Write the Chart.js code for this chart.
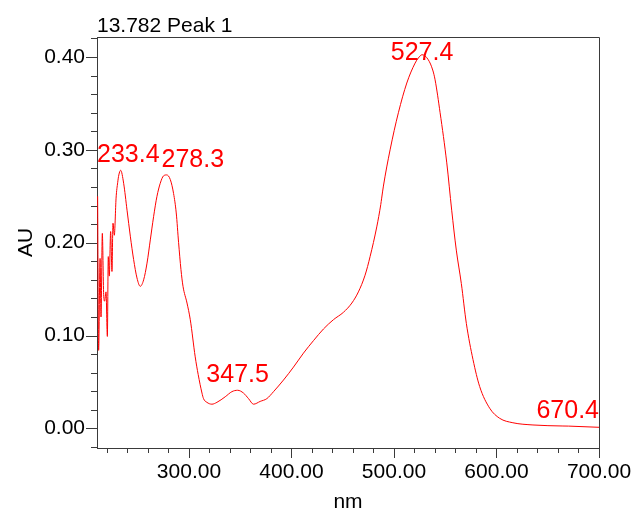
<!DOCTYPE html>
<html>
<head>
<meta charset="utf-8">
<title>13.782 Peak 1</title>
<script src="https://cdn.jsdelivr.net/npm/chart.js@4.4.1/dist/chart.umd.min.js"></script>
<style>
  html, body { margin: 0; padding: 0; background: #fff; }
  #wrap { width: 633px; height: 510px; }
</style>
</head>
<body>
<div id="wrap"><canvas id="spectrum" width="633" height="510"></canvas></div>
<script>
// spectrum (wavelength nm / absorbance AU)
const wavelengths = [
  210.9, 211.9, 213.3, 214.2, 215.5, 216.8, 217.7, 219.1, 220.4, 221.3,
  222.3, 223.6, 224.9, 225.9, 227.2, 228.9, 230.5, 231.6, 233.4, 236.3,
  239.6, 242.8, 246.0, 249.3, 252.5, 255.8, 259.1, 262.3, 265.5, 268.8,
  272.0, 275.2, 278.3, 281.8, 285.0, 287.6, 289.9, 292.2, 294.2, 298.1,
  301.3, 306.1, 309.0, 312.7, 314.2, 317.5, 322.4, 327.3, 335.4, 341.9,
  347.5, 353.2, 358.1, 363.0, 369.5, 376.0, 382.5, 392.2, 402.0, 411.7,
  421.5, 431.2, 440.9, 450.7, 458.9, 465.3, 471.8, 476.7, 483.2, 487.1,
  488.0, 489.7, 496.2, 504.3, 512.5, 520.6, 523.8, 527.4, 533.5, 537.8,
  540.1, 545.0, 551.5, 556.3, 560.8, 565.7, 570.6, 577.1, 583.6, 593.4,
  603.1, 616.0, 635.6, 664.8, 670.4, 700.0
];
const absorbance = [
  0.250, 0.084, 0.183, 0.120, 0.210, 0.144, 0.137, 0.147, 0.099, 0.185,
  0.164, 0.212, 0.169, 0.221, 0.208, 0.248, 0.265, 0.273, 0.278, 0.264,
  0.235, 0.207, 0.182, 0.162, 0.153, 0.160, 0.178, 0.203, 0.228, 0.250,
  0.264, 0.272, 0.273, 0.268, 0.253, 0.232, 0.200, 0.171, 0.153, 0.135,
  0.117, 0.077, 0.058, 0.038, 0.032, 0.028, 0.026, 0.028, 0.034, 0.0395,
  0.041, 0.038, 0.032, 0.026, 0.029, 0.032, 0.0395, 0.052, 0.066, 0.081,
  0.0945, 0.107, 0.117, 0.125, 0.135, 0.147, 0.165, 0.185, 0.217, 0.241,
  0.248, 0.261, 0.300, 0.340, 0.372, 0.3935, 0.399, 0.4025, 0.397, 0.386,
  0.3755, 0.340, 0.286, 0.235, 0.192, 0.156, 0.113, 0.074, 0.045, 0.0216,
  0.0108, 0.006, 0.0036, 0.0025, 0.0024, 0.0011
];

// peak annotations
const peakNm = [233.4, 278.3, 347.5, 527.4, 670.4];
const peakAu = [0.278, 0.273, 0.041, 0.4025, 0.0024];
const peakText = ['233.4', '278.3', '347.5', '527.4', '670.4'];

// axes
const xMajor = [300, 400, 500, 600, 700];
const yMajor = [0.0, 0.1, 0.2, 0.3, 0.4];
const xRange = [210.3, 700];
const yRange = [-0.0212, 0.4216];

const FONT = "'Liberation Sans', Arial, sans-serif";
const AXIS = '#3a3a3a';

Chart.defaults.font.family = FONT;
Chart.defaults.color = '#000';

// minor/major tick marks, frame, peak labels and captions
const decorations = {
  id: 'decorations',
  afterDraw(chart) {
    const ctx = chart.ctx;
    const a = chart.chartArea;
    const x = chart.scales.x;
    const y = chart.scales.y;
    ctx.save();

    ctx.strokeStyle = AXIS;
    ctx.lineWidth = 1;
    ctx.beginPath();
    // top + right frame
    ctx.moveTo(a.left, a.top + 0.5);
    ctx.lineTo(a.right + 0.5, a.top + 0.5);
    ctx.lineTo(a.right + 0.5, a.bottom);
    // x ticks every 20 nm
    for (let v = 220; v <= 700; v += 20) {
      const px = Math.round(x.getPixelForValue(v)) + 0.5;
      const len = xMajor.includes(v) ? 10 : 5;
      ctx.moveTo(px, a.bottom);
      ctx.lineTo(px, a.bottom + len);
    }
    // y ticks every 0.02 AU
    for (let i = -1; i <= 21; i++) {
      const v = i * 0.02;
      const py = Math.round(y.getPixelForValue(v)) + 0.5;
      const len = i % 5 === 0 ? 11 : 6;
      ctx.moveTo(a.left, py);
      ctx.lineTo(a.left - len, py);
    }
    ctx.stroke();

    // captions
    ctx.fillStyle = '#000';
    ctx.font = '21px ' + FONT;
    ctx.textAlign = 'left';
    ctx.textBaseline = 'alphabetic';
    ctx.fillText('13.782 Peak 1', a.left, 32);
    ctx.textAlign = 'center';
    ctx.fillText('nm', (a.left + a.right) / 2, 508);
    ctx.save();
    ctx.translate(32, (a.top + a.bottom) / 2);
    ctx.rotate(-Math.PI / 2);
    ctx.fillText('AU', 0, 0);
    ctx.restore();

    // peak labels: centred over the apex, kept inside the frame,
    // pushed right when they would collide with the previous one
    ctx.fillStyle = '#ff0000';
    ctx.font = '25px ' + FONT;
    ctx.textAlign = 'left';
    let prev = null;
    peakNm.forEach((nm, i) => {
      const w = ctx.measureText(peakText[i]).width;
      const px = x.getPixelForValue(nm);
      const py = y.getPixelForValue(peakAu[i]);
      const base = Math.max(py - 8, a.top + 23);
      let left = Math.max(px - w / 2, a.left);
      if (prev && Math.abs(prev.base - base) < 24) {
        left = Math.max(left, prev.right + 2);
      }
      left = Math.min(left, a.right - w);
      ctx.fillText(peakText[i], left, base);
      prev = { right: left + w, base };
    });

    ctx.restore();
  }
};

const ctx = document.getElementById('spectrum');

const spectrumChart = new Chart(ctx, {
  type: 'line',
  data: {
    datasets: [{
      label: '13.782 Peak 1',
      data: wavelengths.map((nm, i) => ({ x: nm, y: absorbance[i] })),
      borderColor: '#ff0000',
      borderWidth: 1,
      pointRadius: 0,
      cubicInterpolationMode: 'monotone',
      fill: false
    }]
  },
  options: {
    responsive: false,
    devicePixelRatio: 1,
    animation: false,
    layout: { padding: { left: 0, right: 34, top: 37, bottom: 0 } },
    plugins: {
      legend: { display: false },
      tooltip: { enabled: false },
      title: { display: false }
    },
    scales: {
      x: {
        type: 'linear',
        min: xRange[0],
        max: xRange[1],
        grid: { display: false, drawTicks: false },
        border: { display: true, color: AXIS, width: 1 },
        afterBuildTicks: scale => { scale.ticks = xMajor.map(v => ({ value: v })); },
        afterFit: scale => {
          scale.height = 62;
          scale.paddingLeft = 0;
          scale.paddingRight = 0;
        },
        ticks: {
          autoSkip: false,
          maxRotation: 0,
          padding: 12,
          font: { size: 21 },
          color: '#000',
          callback: v => Number(v).toFixed(2)
        }
      },
      y: {
        min: yRange[0],
        max: yRange[1],
        grid: { display: false, drawTicks: false },
        border: { display: true, color: AXIS, width: 1 },
        afterBuildTicks: scale => { scale.ticks = yMajor.map(v => ({ value: v })); },
        afterFit: scale => {
          scale.width = 97;
          scale.paddingTop = 0;
          scale.paddingBottom = 0;
        },
        ticks: {
          autoSkip: false,
          padding: 12,
          font: { size: 21 },
          color: '#000',
          callback: v => Number(v).toFixed(2)
        }
      }
    }
  },
  plugins: [decorations]
});
</script>
</body>
</html>
